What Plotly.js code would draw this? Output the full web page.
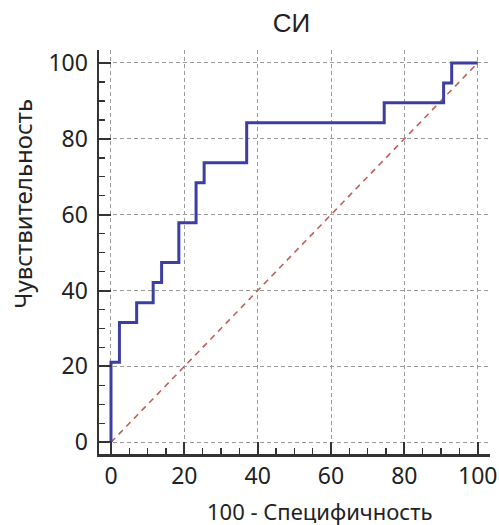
<!DOCTYPE html>
<html>
<head>
<meta charset="utf-8">
<script src="https://cdn.plot.ly/plotly-3.0.1.min.js"></script>
<style>
  html, body { margin: 0; padding: 0; background: #ffffff; }
  #chart { width: 499px; height: 525px; }
</style>
</head>
<body>
<div id="chart"></div>
<script>
// ROC curve: 100 - specificity (x) vs sensitivity (y), both in %
const specComplement = [0, 0, 2.3, 7.0, 11.5, 13.8, 18.5, 23.2, 25.4, 37.0, 74.5, 90.7, 92.9, 100];
const sensitivity    = [0, 21.1, 31.6, 36.8, 42.1, 47.4, 57.9, 68.4, 73.7, 84.2, 89.5, 94.7, 100, 100];

// Reference diagonal (random classifier)
const diagX = [0, 100];
const diagY = [0, 100];

const tickVals = [0, 20, 40, 60, 80, 100];
const tickText = ['0', '20', '40', '60', '80', '100'];

const chartTitle = 'СИ';
const xTitle = '100 - Специфичность';
const yTitle = 'Чувствительность';

const tickFont = { family: 'Noto Sans, Open Sans, sans-serif', size: 23, color: '#222222' };
const xLabelFont = { family: 'Noto Sans, Open Sans, sans-serif', size: 22, color: '#222222' };
const yLabelFont = { family: 'Noto Sans, Open Sans, sans-serif', size: 24, color: '#222222' };

const traces = [
  {
    x: diagX, y: diagY,
    type: 'scatter', mode: 'lines',
    line: { color: '#c0605a', width: 1.6, dash: '6px,5px' },
    hoverinfo: 'skip'
  },
  {
    x: specComplement, y: sensitivity,
    type: 'scatter', mode: 'lines',
    line: { color: '#3c3ea0', width: 3, shape: 'hv' }
  }
];

function axisStyle(standoff) {
  return {
    tickmode: 'array',
    tickvals: tickVals,
    ticktext: tickText,
    ticks: 'inside',
    ticklen: 12,
    tickwidth: 2,
    tickcolor: '#333333',
    ticklabelstandoff: standoff,
    tickfont: tickFont,
    showline: true,
    linecolor: '#333333',
    linewidth: 2.5,
    mirror: false,
    showgrid: true,
    gridcolor: '#9a9a9a',
    gridwidth: 1,
    griddash: '4px,3px',
    zeroline: false,
    minor: {
      tick0: 0, dtick: 5,
      ticks: 'inside', ticklen: 6, tickwidth: 1.5, tickcolor: '#333333',
      showgrid: false
    },
    fixedrange: true
  };
}

const xaxis = Object.assign(axisStyle(0), { range: [-3.27, 103.35] });
const yaxis = Object.assign(axisStyle(4), { range: [-3.08, 103.4] });

const layout = {
  width: 499,
  height: 525,
  margin: { l: 99, r: 9, t: 50, b: 71 },
  paper_bgcolor: '#ffffff',
  plot_bgcolor: '#ffffff',
  showlegend: false,
  title: {
    text: chartTitle,
    font: { family: 'Liberation Sans, Arial, sans-serif', size: 26, color: '#222222' },
    xref: 'paper', x: 0.492, xanchor: 'center',
    yref: 'container', y: 1 - 22.5 / 525, yanchor: 'middle'
  },
  xaxis: xaxis,
  yaxis: yaxis,
  annotations: [
    {
      text: xTitle, showarrow: false,
      xref: 'paper', yref: 'paper',
      x: 0.5627, y: -0.141, xanchor: 'center', yanchor: 'middle',
      font: xLabelFont
    },
    {
      text: yTitle, showarrow: false, textangle: -90,
      xref: 'paper', yref: 'paper',
      x: -0.195, y: 0.619, xanchor: 'center', yanchor: 'middle',
      font: yLabelFont
    }
  ]
};

Plotly.newPlot('chart', traces, layout, { displayModeBar: false, staticPlot: true });
</script>
</body>
</html>
